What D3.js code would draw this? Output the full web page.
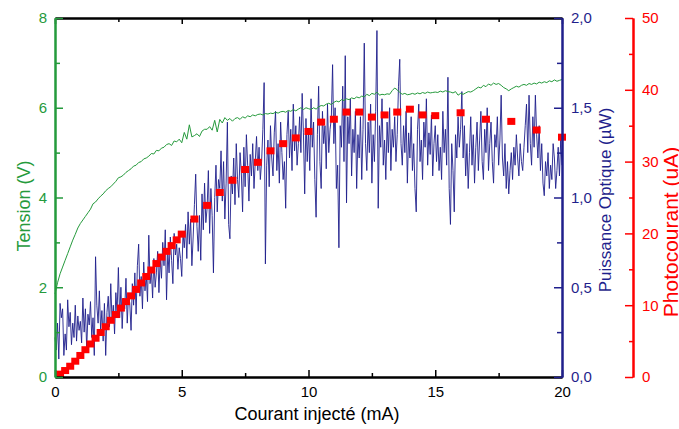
<!DOCTYPE html>
<html>
<head>
<meta charset="utf-8">
<script src="https://cdn.jsdelivr.net/npm/d3@7"></script>
<style>
  body { margin: 0; background: #fff; }
  text { font-family: "Liberation Sans", Arial, sans-serif; }
</style>
</head>
<body>
<div id="chart"></div>
<script>
// injected current grid for the two sweep curves (mA)
var stepTension = 0.1;
var stepPuissance = 0.05;

// Tension (V), one value every 0.1 mA from 0 to 20 mA
var tension = [
  1.85, 2.10, 2.30, 2.45, 2.60, 2.75, 2.90, 3.05, 3.18, 3.32,
  3.42, 3.50, 3.58, 3.66, 3.74, 3.86, 3.90, 3.97, 4.03, 4.08,
  4.15, 4.20, 4.24, 4.30, 4.36, 4.44, 4.46, 4.50, 4.56, 4.60,
  4.64, 4.70, 4.72, 4.78, 4.80, 4.86, 4.88, 4.92, 4.98, 4.97,
  5.05, 5.04, 5.10, 5.12, 5.18, 5.20, 5.16, 5.26, 5.24, 5.30,
  5.22, 5.45, 5.30, 5.62, 5.35, 5.38, 5.42, 5.36, 5.48, 5.52,
  5.52, 5.58, 5.50, 5.72, 5.46, 5.74, 5.66, 5.78, 5.72, 5.76,
  5.70, 5.76, 5.78, 5.74, 5.80, 5.77, 5.82, 5.80, 5.84, 5.82,
  5.85, 5.86, 5.84, 5.87, 5.86, 5.88, 5.87, 5.90, 5.88, 5.91,
  5.92, 5.90, 5.94, 5.92, 5.96, 5.93, 5.97, 6.00, 5.96, 6.00,
  5.98, 5.96, 6.00, 5.97, 6.02, 6.05, 6.04, 6.08, 6.10, 6.07,
  6.12, 6.15, 6.13, 6.18, 6.16, 6.20, 6.18, 6.22, 6.20, 6.24,
  6.22, 6.26, 6.24, 6.30, 6.27, 6.32, 6.30, 6.35, 6.28, 6.30,
  6.29, 6.31, 6.30, 6.38, 6.44, 6.40, 6.34, 6.30, 6.32, 6.29,
  6.30, 6.32, 6.30, 6.33, 6.31, 6.34, 6.32, 6.35, 6.33, 6.34,
  6.35, 6.34, 6.37, 6.35, 6.38, 6.36, 6.35, 6.33, 6.36, 6.28,
  6.32, 6.30, 6.33, 6.36, 6.35, 6.38, 6.42, 6.46, 6.44, 6.50,
  6.47, 6.53, 6.50, 6.55, 6.52, 6.54, 6.50, 6.45, 6.42, 6.38,
  6.42, 6.45, 6.48, 6.46, 6.50, 6.52, 6.50, 6.54, 6.52, 6.55,
  6.53, 6.57, 6.55, 6.58, 6.56, 6.60, 6.58, 6.62, 6.59, 6.61,
  6.63
];

// Puissance optique (µW), one value every 0.05 mA from 0 to 20 mA
var puissance = [
  0.22, 0.15, 0.30, 0.10, 0.41, 0.33, 0.38, 0.12, 0.24, 0.15, 0.43, 0.28, 0.36, 0.18, 0.30, 0.22, 0.40, 0.20, 0.34, 0.26,
  0.31, 0.19, 0.44, 0.25, 0.38, 0.16, 0.35, 0.29, 0.42, 0.22, 0.33, 0.12, 0.67, 0.40, 0.30, 0.48, 0.26, 0.37, 0.20, 0.41,
  0.12, 0.36, 0.45, 0.28, 0.52, 0.31, 0.40, 0.24, 0.47, 0.36, 0.61, 0.33, 0.50, 0.27, 0.44, 0.38, 0.55, 0.30, 0.46, 0.41,
  0.26, 0.52, 0.40, 0.58, 0.35, 0.62, 0.74, 0.45, 0.56, 0.38, 0.64, 0.48, 0.57, 0.42, 0.79, 0.52, 0.60, 0.44, 0.66, 0.50,
  0.58, 0.70, 0.47, 0.66, 0.55, 0.75, 0.62, 0.82, 0.43, 0.70, 0.58, 0.78, 0.65, 0.52, 0.80, 0.68, 0.74, 0.60, 0.72, 0.66,
  0.56, 0.80, 0.72, 0.85, 0.66, 0.92, 0.74, 0.88, 0.62, 0.78, 0.96, 1.13, 0.84, 0.70, 0.90, 0.65, 1.02, 0.82, 1.08, 0.86,
  0.94, 1.15, 0.80, 1.05, 0.90, 0.58, 1.00, 1.18, 0.92, 1.10, 1.05, 1.26, 0.98, 1.20, 0.88, 1.08, 1.42, 0.85, 0.77, 1.12,
  1.02, 1.22, 0.96, 1.30, 1.10, 1.00, 1.25, 1.14, 0.92, 1.28, 1.06, 1.35, 1.18, 0.98, 1.24, 1.12, 1.30, 1.05, 1.20, 1.34,
  1.15, 1.28, 1.10, 1.20, 1.38, 1.64, 0.63, 1.18, 1.32, 1.06, 1.40, 1.22, 1.12, 1.36, 1.48, 1.15, 1.30, 1.08, 1.42, 1.25,
  1.10, 1.20, 0.94, 1.35, 1.48, 1.22, 1.38, 1.15, 1.52, 1.26, 1.40, 1.18, 1.30, 1.45, 1.25, 1.58, 1.36, 1.02, 1.44, 1.20,
  1.38, 1.15, 1.55, 1.28, 1.42, 1.10, 0.89, 1.35, 1.62, 1.20, 1.05, 1.48, 1.30, 1.40, 1.16, 1.52, 1.25, 1.38, 1.44, 1.74,
  1.30, 1.50, 1.05, 1.18, 0.72, 1.40, 1.28, 1.62, 1.20, 1.79, 0.97, 1.45, 1.30, 1.55, 1.12, 1.38, 1.25, 1.48, 1.05, 1.35,
  1.22, 1.45, 1.10, 1.38, 1.86, 1.30, 1.15, 1.42, 1.25, 1.52, 1.08, 1.35, 1.20, 1.48, 1.93, 0.94, 1.40, 1.28, 1.55, 1.18,
  1.32, 1.10, 1.42, 1.25, 1.50, 1.15, 1.38, 1.28, 1.45, 1.20, 1.35, 1.62, 1.77, 1.30, 1.18, 1.40, 1.25, 1.48, 1.08, 1.36,
  1.22, 1.45, 1.15, 1.30, 1.05, 0.92, 1.38, 1.52, 1.20, 1.32, 1.10, 1.42, 1.28, 1.55, 1.18, 1.36, 1.24, 1.46, 1.12, 1.30,
  1.40, 1.20, 1.35, 1.15, 1.28, 1.10, 1.48, 1.25, 1.38, 1.18, 1.67, 1.05, 0.85, 1.30, 1.15, 0.92, 1.35, 1.22, 1.45, 1.28,
  1.38, 1.59, 1.22, 1.40, 1.12, 1.30, 1.05, 1.25, 1.45, 1.18, 1.35, 1.08, 1.28, 1.42, 1.15, 1.32, 1.48, 1.20, 1.10, 1.38,
  1.25, 1.50, 1.15, 1.30, 1.42, 1.20, 1.08, 1.35, 1.28, 1.45, 1.18, 1.32, 1.57, 1.22, 1.12, 1.30, 1.05, 1.20, 1.02, 1.15,
  1.25, 1.10, 1.28, 1.18, 1.35, 1.22, 1.12, 1.30, 1.20, 1.15, 1.28, 1.40, 1.52, 1.25, 1.57, 1.30, 1.18, 1.45, 1.28, 1.57,
  1.35, 1.22, 1.40, 1.15, 1.30, 1.08, 1.01, 1.20, 1.12, 1.25, 1.05, 1.18, 1.10, 1.30, 1.22, 1.05, 1.15, 1.28, 1.12, 1.32,
  1.18
];

// Photocourant (uA) measured points
var courantPhoto = [
  0.2, 0.4, 0.6, 0.8, 1.0, 1.2, 1.4, 1.6, 1.8, 2.0, 2.2, 2.4, 2.6, 2.8, 3.0,
  3.2, 3.4, 3.6, 3.8, 4.0, 4.2, 4.4, 4.6, 4.8, 5.0,
  5.5, 6.0, 6.5, 7.0, 7.5, 8.0, 8.5, 9.0, 9.5, 10.0, 10.5, 11.0, 11.5, 12.0,
  12.5, 13.0, 13.5, 14.0, 14.5, 15.0, 16.0, 17.0, 18.0, 19.0, 20.0
];
var photocourant = [
  0.4, 0.9, 1.5, 2.2, 3.0, 3.8, 4.6, 5.4, 6.2, 7.0, 7.9, 8.7, 9.6, 10.5, 11.3,
  12.2, 13.1, 14.0, 14.9, 15.8, 16.7, 17.5, 18.3, 19.1, 19.9,
  22.0, 23.9, 25.7, 27.4, 28.9, 29.9, 31.5, 32.5, 33.3, 34.2, 35.5, 35.9, 36.9, 36.9,
  36.2, 36.5, 36.9, 37.3, 36.5, 36.4, 36.8, 35.9, 35.6, 34.4, 33.4
];

// tick values
var xMajor = [0, 5, 10, 15, 20], xMinor = [2.5, 7.5, 12.5, 17.5];
var vMajor = [0, 2, 4, 6, 8], vMinor = [1, 3, 5, 7];
var pMajor = [0, 0.5, 1, 1.5, 2], pMinor = [0.25, 0.75, 1.25, 1.75];
var iMajor = [0, 10, 20, 30, 40, 50], iMinor = [5, 15, 25, 35, 45];

var green = '#259a3c', navy = '#1f1f8c', red = '#ff0000';

var svg_width = 679, svg_height = 429;
var plotLeft = 55, plotRight = 562, plotTop = 18, plotBottom = 377;
var redAxisX = 633;

var svg = d3.select('#chart')
  .append('svg')
  .attr('width', svg_width)
  .attr('height', svg_height);

var x = d3.scaleLinear().domain([0, 20]).range([plotLeft, plotRight]);
var yV = d3.scaleLinear().domain([0, 8]).range([plotBottom, plotTop]);
var yP = d3.scaleLinear().domain([0, 2]).range([plotBottom, plotTop]);
var yI = d3.scaleLinear().domain([0, 50]).range([plotBottom, plotTop]);

var comma = function(d) { return d3.format('.1f')(d).replace('.', ','); };

// blue optical power
svg.append('path')
  .datum(puissance)
  .attr('fill', 'none')
  .attr('stroke', navy)
  .attr('stroke-width', 1)
  .attr('stroke-opacity', 0.9)
  .attr('d', d3.line()
    .x(function(d, i) { return x(i * stepPuissance); })
    .y(function(d) { return yP(d); }));

// green voltage
svg.append('path')
  .datum(tension)
  .attr('fill', 'none')
  .attr('stroke', green)
  .attr('stroke-width', 1)
  .attr('d', d3.line()
    .x(function(d, i) { return x(i * stepTension); })
    .y(function(d) { return yV(d); }));

// red photocurrent squares
svg.selectAll('rect.photo')
  .data(photocourant)
  .enter().append('rect')
  .attr('class', 'photo')
  .attr('x', function(d, i) { return x(courantPhoto[i]) - 4; })
  .attr('y', function(d) { return yI(d) - 3.5; })
  .attr('width', 8)
  .attr('height', 7)
  .attr('fill', red);

// axes helper
function drawAxis(axis, tx, ty, colour, fontSize) {
  var g = svg.append('g')
    .attr('transform', 'translate(' + tx + ',' + ty + ')')
    .attr('color', colour)
    .call(axis);
  g.attr('font-size', fontSize + 'px')
    .attr('font-family', '"Liberation Sans", Arial, sans-serif');
  g.selectAll('path.domain').attr('stroke-width', 2);
  g.selectAll('.tick line').attr('stroke-width', 1.5);
  return g;
}

// bottom
drawAxis(d3.axisBottom(x).tickValues(xMinor).tickSize(-4).tickSizeOuter(0).tickFormat(''), 0, plotBottom, '#000', 15);
drawAxis(d3.axisBottom(x).tickValues(xMajor).tickSize(-7).tickSizeOuter(0).tickPadding(9).tickFormat(d3.format('d')), 0, plotBottom, '#000', 15);
// top frame
drawAxis(d3.axisTop(x).tickValues(xMinor).tickSize(-4).tickSizeOuter(0).tickFormat(''), 0, plotTop, '#000', 15);
drawAxis(d3.axisTop(x).tickValues(xMajor).tickSize(-6).tickSizeOuter(0).tickFormat(''), 0, plotTop, '#000', 15);
// left tension
drawAxis(d3.axisLeft(yV).tickValues(vMinor).tickSize(-5).tickSizeOuter(0).tickFormat(''), plotLeft, 0, green, 15);
drawAxis(d3.axisLeft(yV).tickValues(vMajor).tickSize(-8).tickSizeOuter(0).tickPadding(8).tickFormat(d3.format('d')), plotLeft, 0, green, 15);
// right power
drawAxis(d3.axisRight(yP).tickValues(pMinor).tickSize(-5).tickSizeOuter(0).tickFormat(''), plotRight, 0, navy, 15);
drawAxis(d3.axisRight(yP).tickValues(pMajor).tickSize(-8).tickSizeOuter(0).tickPadding(9).tickFormat(comma), plotRight, 0, navy, 15);
// far right photocurrent
drawAxis(d3.axisRight(yI).tickValues(iMinor).tickSize(-4).tickSizeOuter(0).tickFormat(''), redAxisX, 0, red, 15);
drawAxis(d3.axisRight(yI).tickValues(iMajor).tickSize(-8).tickSizeOuter(0).tickPadding(9).tickFormat(d3.format('d')), redAxisX, 0, red, 15);

// titles
svg.append('text')
  .attr('transform', 'translate(30,206) rotate(-90)')
  .attr('text-anchor', 'middle')
  .attr('font-size', '18px')
  .attr('fill', green)
  .text('Tension (V)');

svg.append('text')
  .attr('transform', 'translate(611,200) rotate(-90)')
  .attr('text-anchor', 'middle')
  .attr('font-size', '17px')
  .attr('fill', navy)
  .text('Puissance Optique (µW)');

svg.append('text')
  .attr('transform', 'translate(678,232) rotate(-90)')
  .attr('text-anchor', 'middle')
  .attr('font-size', '21px')
  .attr('fill', red)
  .text('Photocourant (uA)');

svg.append('text')
  .attr('x', 317)
  .attr('y', 420)
  .attr('text-anchor', 'middle')
  .attr('font-size', '18px')
  .attr('fill', '#000')
  .text('Courant injecté (mA)');
</script>
</body>
</html>
